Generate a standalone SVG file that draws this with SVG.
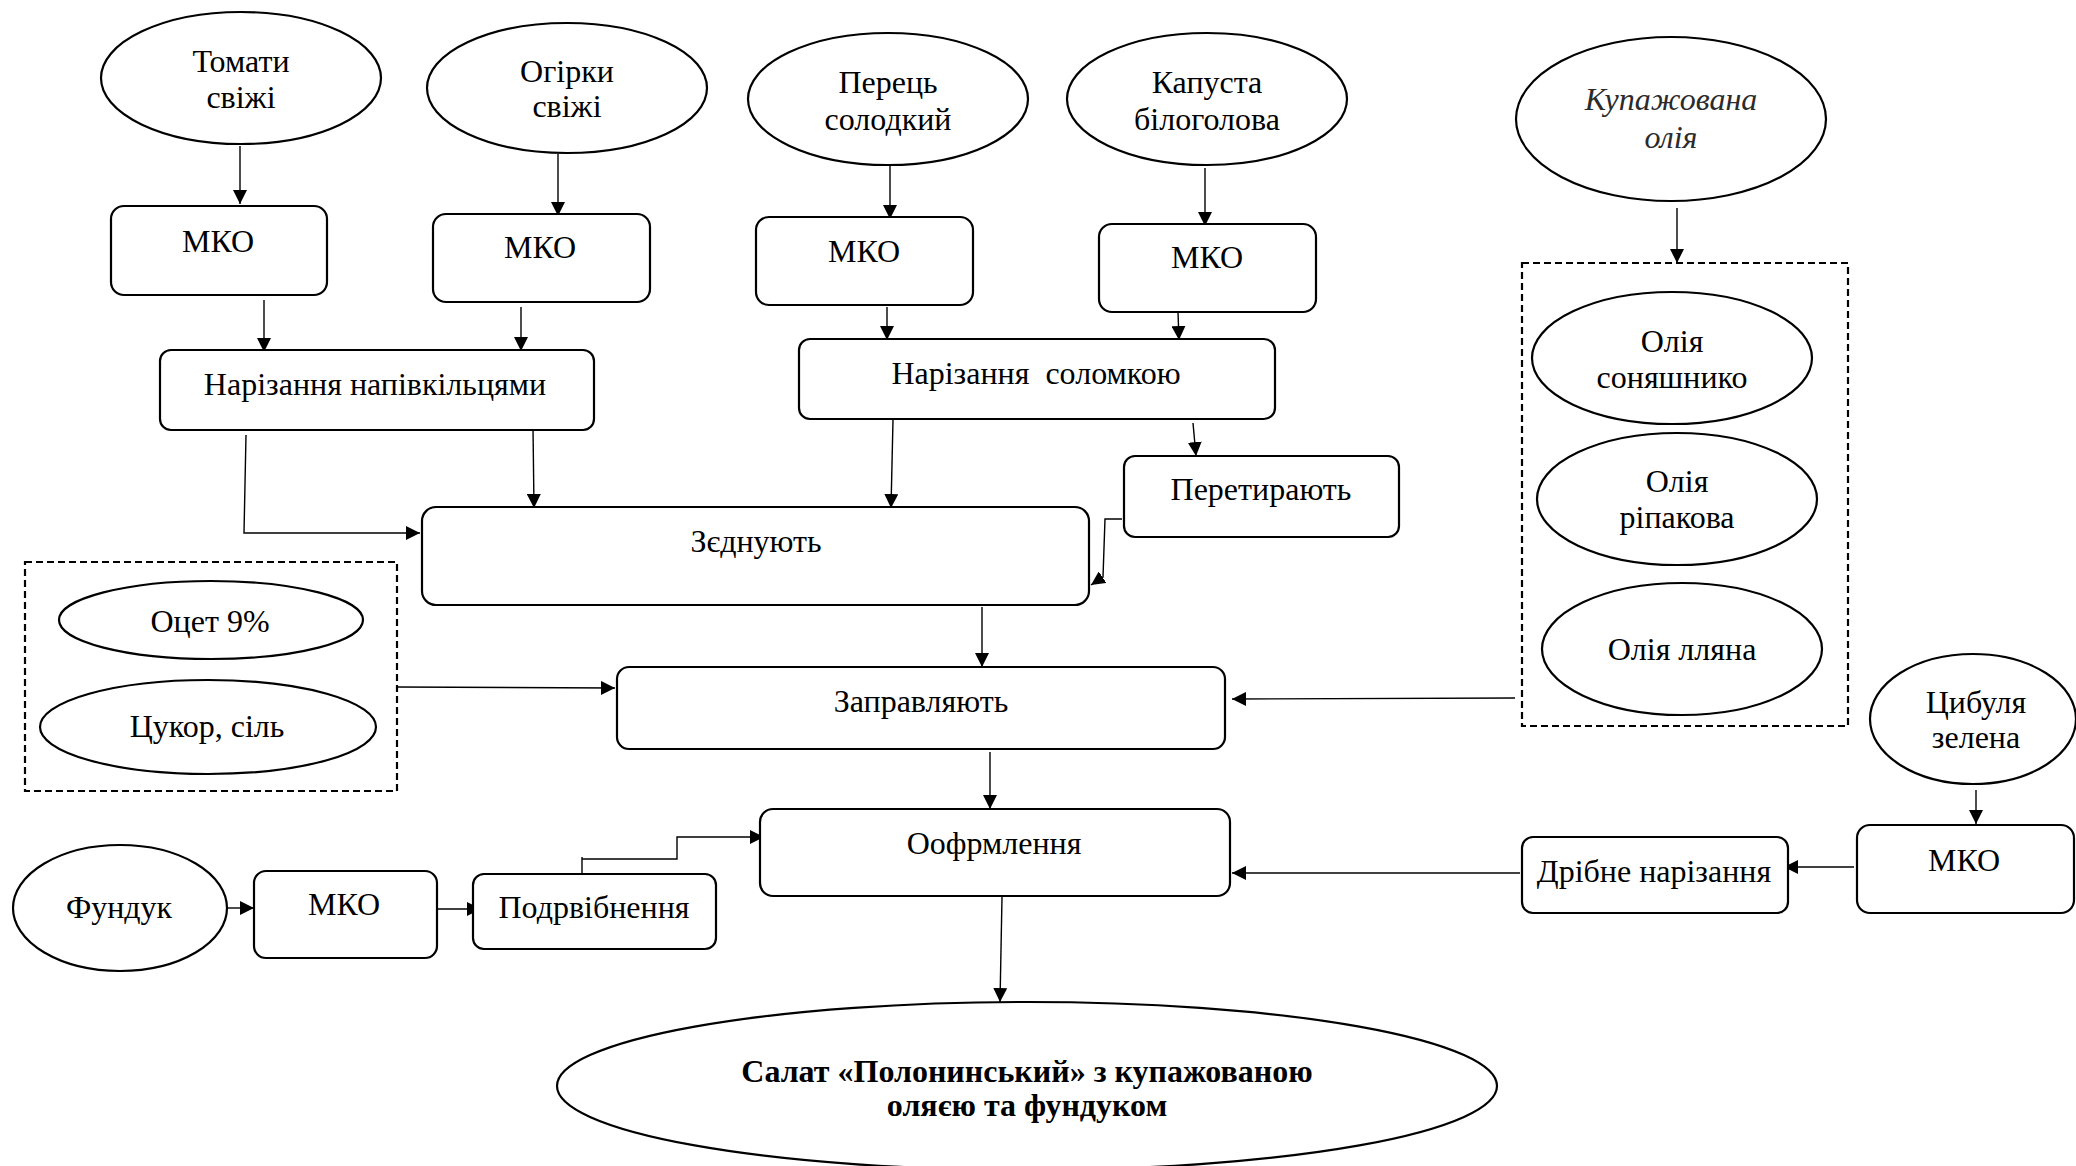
<svg xmlns="http://www.w3.org/2000/svg" width="2076" height="1166" viewBox="0 0 2076 1166">
<defs>
<marker id="ah" viewBox="0 0 10 10" refX="10" refY="5" markerWidth="14" markerHeight="14" markerUnits="userSpaceOnUse" orient="auto">
<path d="M0,0 L10,5 L0,10 z" fill="#000"/>
</marker>
</defs>
<style>
.n{fill:#fff;stroke:#000;stroke-width:2.2}
.d{fill:none;stroke:#000;stroke-width:2.2;stroke-dasharray:7 4}
.c{fill:none;stroke:#000;stroke-width:1.4;marker-end:url(#ah)}
.l{fill:none;stroke:#000;stroke-width:1.4}
text{font-family:"Liberation Serif","Times New Roman",serif;font-size:32px;fill:#000;text-anchor:middle}
.i{font-style:italic;fill:#2b2b2b}
.b{font-weight:bold;font-size:32px}
</style>
<rect width="2076" height="1166" fill="#fff"/>
<g id="connectors">
<path class="c" d="M240,146 L240,204"/>
<path class="c" d="M558,154 L558,216"/>
<path class="c" d="M890,166 L890,219"/>
<path class="c" d="M1205,168 L1205,226"/>
<path class="c" d="M264,300 L264,352"/>
<path class="c" d="M521,307 L521,351"/>
<path class="c" d="M887,307 L887,340"/>
<path class="c" d="M1178,312 L1179,340"/>
<path class="c" d="M246,435 L244,533 L420,533"/>
<path class="c" d="M533,428 L534,508"/>
<path class="c" d="M893,420 L891,508"/>
<path class="c" d="M1193,423 L1196,456"/>
<path class="c" d="M1122,519 L1105,519 L1103,577 L1091,585"/>
<path class="c" d="M982,607 L982,667"/>
<path class="c" d="M397,687 L615,688"/>
<path class="c" d="M1515,698 L1232,699"/>
<path class="c" d="M990,752 L990,809"/>
<path class="c" d="M1677,208 L1677,263"/>
<path class="c" d="M1976,790 L1976,824"/>
<path class="c" d="M1854,867 L1784,867"/>
<path class="c" d="M1520,873 L1232,873"/>
<path class="c" d="M228,908 L254,908"/>
<path class="c" d="M437,909 L481,909"/>
<path class="l" d="M582,857 L582,876"/>
<path class="c" d="M582,859 L677,859 L677,837 L764,837"/>
<path class="c" d="M1002,897 L1000,1002"/>
</g>
<g id="tomato"><ellipse class="n" cx="241" cy="78" rx="140" ry="66"/><text x="241" y="72">Томати</text><text x="241" y="108">свіжі</text></g>
<g id="cucumber"><ellipse class="n" cx="567" cy="88" rx="140" ry="65"/><text x="567" y="82">Огірки</text><text x="567" y="117">свіжі</text></g>
<g id="pepper"><ellipse class="n" cx="888" cy="99" rx="140" ry="66"/><text x="888" y="93">Перець</text><text x="888" y="130">солодкий</text></g>
<g id="cabbage"><ellipse class="n" cx="1207" cy="99" rx="140" ry="66"/><text x="1207" y="93">Капуста</text><text x="1207" y="130">білоголова</text></g>
<g id="blend"><ellipse class="n" cx="1671" cy="119" rx="155" ry="82"/><text class="i" x="1671" y="110">Купажована</text><text class="i" x="1671" y="148">олія</text></g>
<g id="mko1"><rect class="n" x="111" y="206" width="216" height="89" rx="13"/><text x="218" y="252">МКО</text></g>
<g id="mko2"><rect class="n" x="433" y="214" width="217" height="88" rx="13"/><text x="540" y="258">МКО</text></g>
<g id="mko3"><rect class="n" x="756" y="217" width="217" height="88" rx="13"/><text x="864" y="262">МКО</text></g>
<g id="mko4"><rect class="n" x="1099" y="224" width="217" height="88" rx="13"/><text x="1207" y="268">МКО</text></g>
<g id="cut1"><rect class="n" x="160" y="350" width="434" height="80" rx="11"/><text x="375" y="395">Нарізання напівкільцями</text></g>
<g id="cut2"><rect class="n" x="799" y="339" width="476" height="80" rx="11"/><text x="1036" y="384" xml:space="preserve">Нарізання  соломкою</text></g>
<g id="grate"><rect class="n" x="1124" y="456" width="275" height="81" rx="11"/><text x="1261" y="500">Перетирають</text></g>
<g id="combine"><rect class="n" x="422" y="507" width="667" height="98" rx="14"/><text x="756" y="552">Зєднують</text></g>
<g id="oilgroup"><rect class="d" x="1522" y="263" width="326" height="463"/>
<g id="sunflower"><ellipse class="n" cx="1672" cy="358" rx="140" ry="66"/><text x="1672" y="352">Олія</text><text x="1672" y="388">соняшнико</text></g>
<g id="rapeseed"><ellipse class="n" cx="1677" cy="499" rx="140" ry="66"/><text x="1677" y="492">Олія</text><text x="1677" y="528">ріпакова</text></g>
<g id="linseed"><ellipse class="n" cx="1682" cy="649" rx="140" ry="66"/><text x="1682" y="660">Олія лляна</text></g>
</g>
<g id="dressgroup"><rect class="d" x="25" y="562" width="372" height="229"/>
<g id="vinegar"><ellipse class="n" cx="211" cy="620" rx="152" ry="39"/><text x="210" y="632">Оцет 9%</text></g>
<g id="sugar"><ellipse class="n" cx="208" cy="727" rx="168" ry="47"/><text x="207" y="737">Цукор, сіль</text></g>
</g>
<g id="dress"><rect class="n" x="617" y="667" width="608" height="82" rx="12"/><text x="921" y="712">Заправляють</text></g>
<g id="decor"><rect class="n" x="760" y="809" width="470" height="87" rx="13"/><text x="994" y="854">Оофрмлення</text></g>
<g id="onion"><ellipse class="n" cx="1973" cy="719" rx="103" ry="65"/><text x="1976" y="713">Цибуля</text><text x="1976" y="748">зелена</text></g>
<g id="mko5"><rect class="n" x="1857" y="825" width="217" height="88" rx="13"/><text x="1964" y="871">МКО</text></g>
<g id="finecut"><rect class="n" x="1522" y="837" width="266" height="76" rx="11"/><text x="1654" y="882">Дрібне нарізання</text></g>
<g id="hazelnut"><ellipse class="n" cx="120" cy="908" rx="107" ry="63"/><text x="119" y="918">Фундук</text></g>
<g id="mko6"><rect class="n" x="254" y="871" width="183" height="87" rx="12"/><text x="344" y="915">МКО</text></g>
<g id="crush"><rect class="n" x="473" y="874" width="243" height="75" rx="11"/><text x="594" y="918">Подрвібнення</text></g>
<g id="result"><ellipse class="n" cx="1027" cy="1086" rx="470" ry="84"/><text class="b" x="1027" y="1082">Салат «Полонинський» з купажованою</text><text class="b" x="1027" y="1116">оляєю та фундуком</text></g>
</svg>
